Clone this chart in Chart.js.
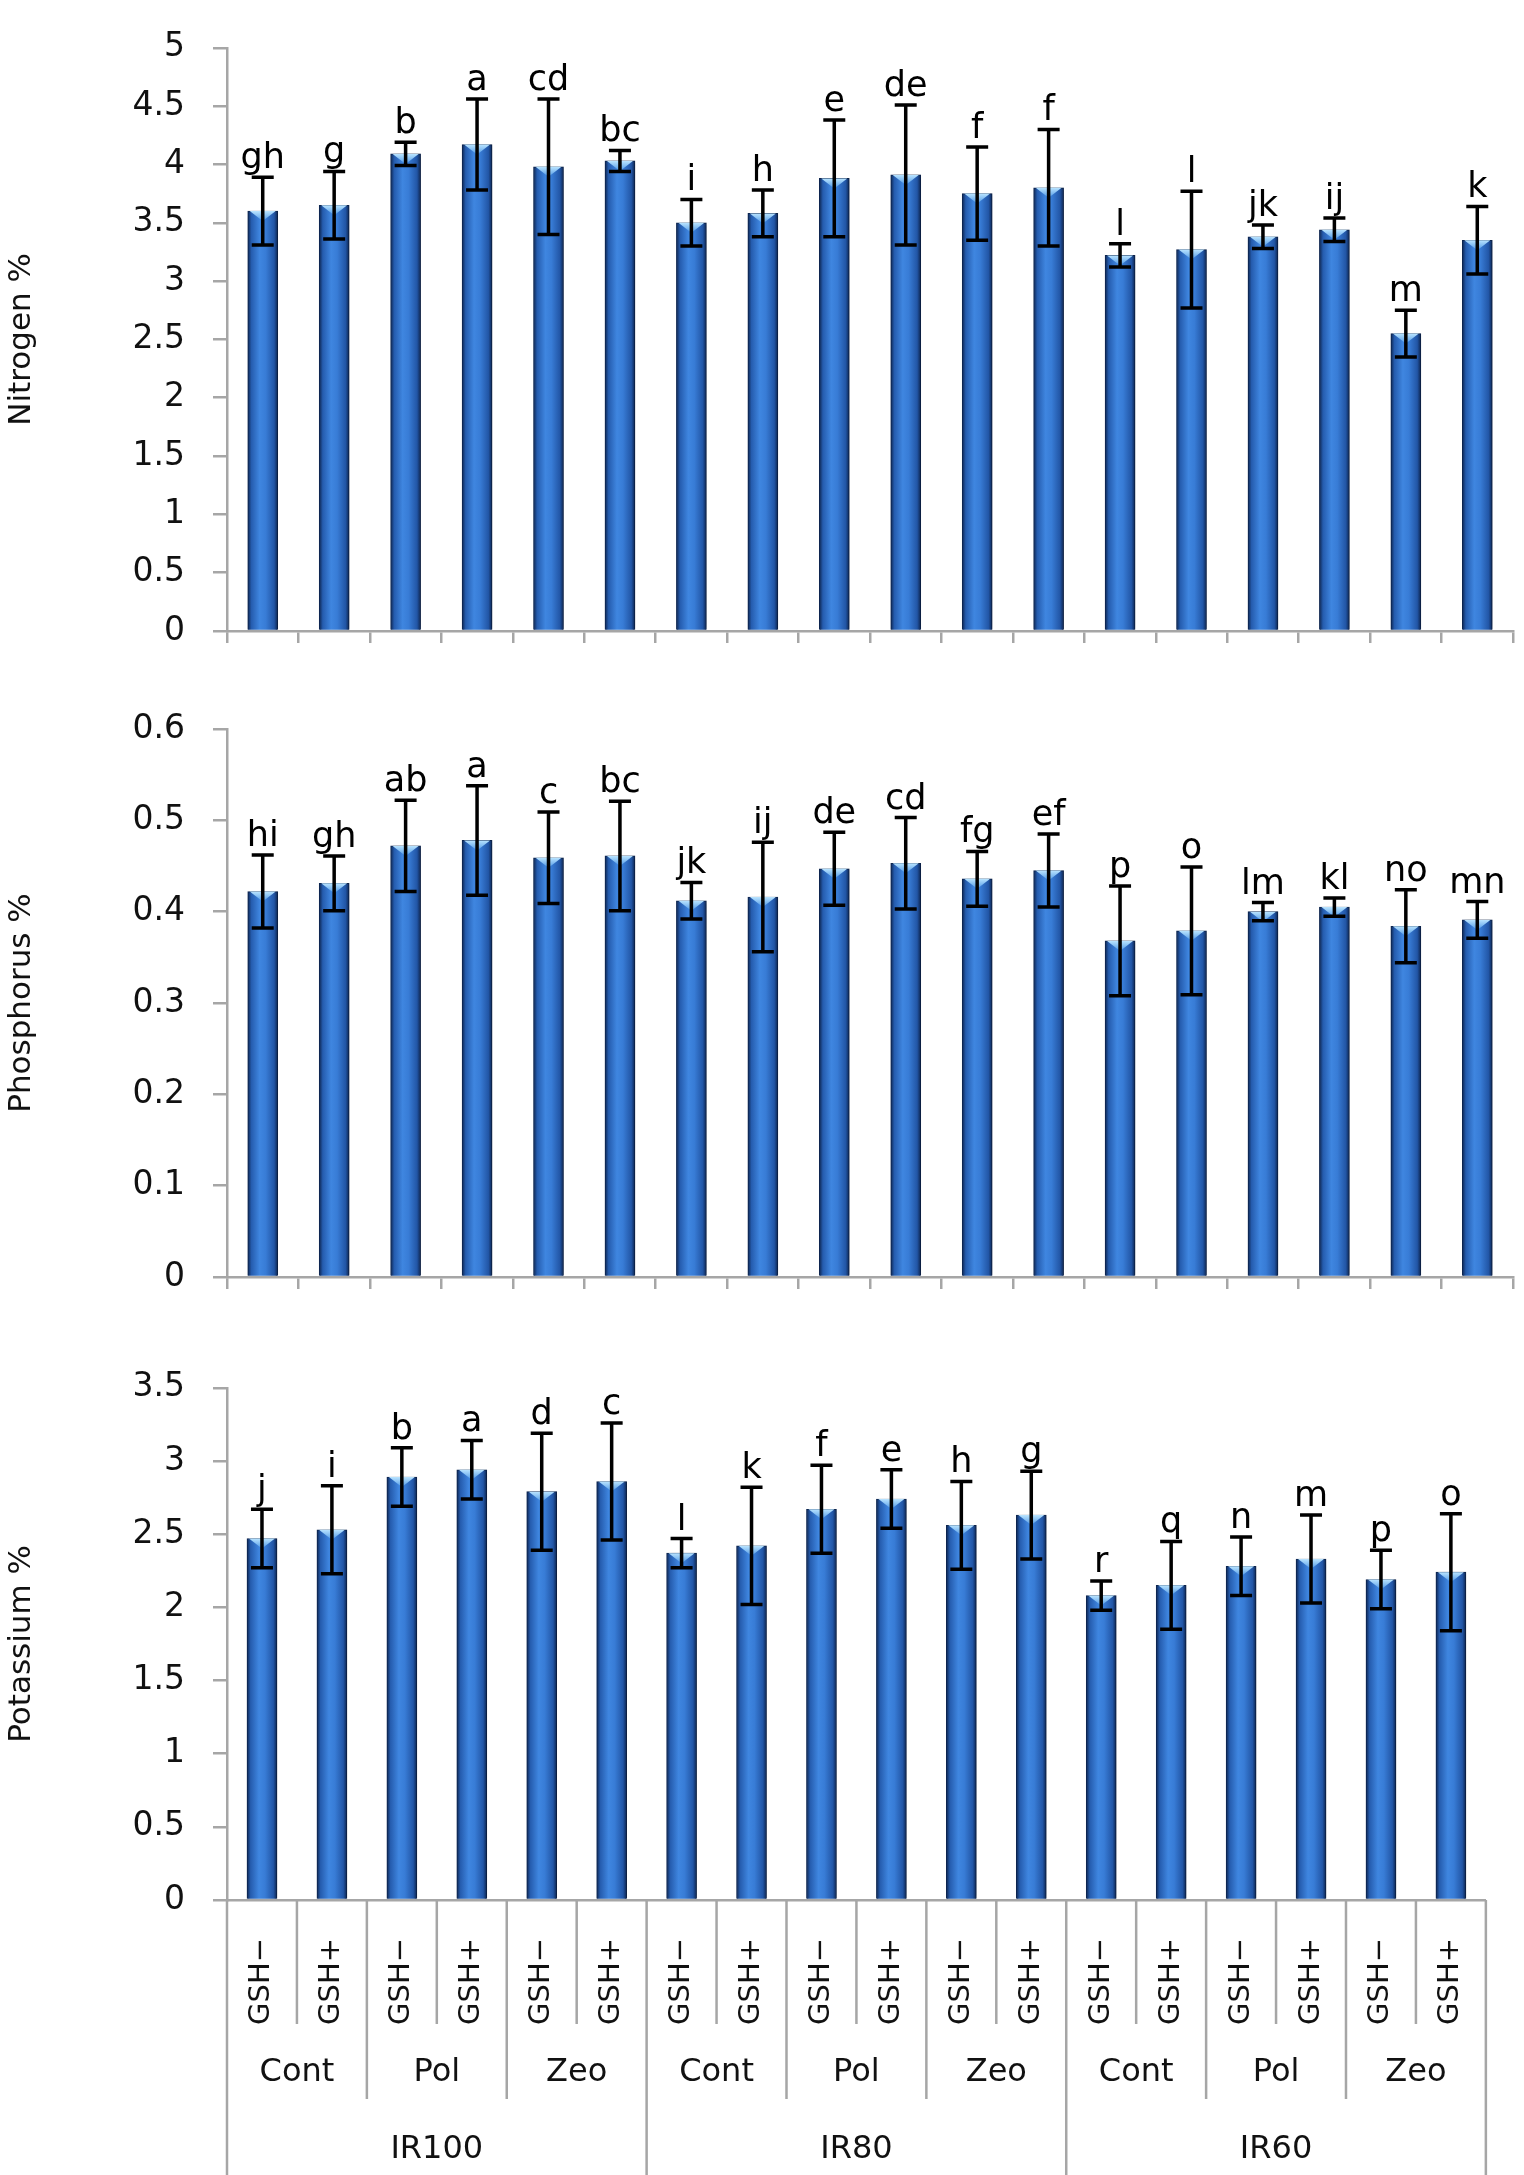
<!DOCTYPE html>
<html>
<head>
<meta charset="utf-8">
<script src="https://cdn.jsdelivr.net/npm/chart.js@4.4.1/dist/chart.umd.min.js"></script>
<style>
  body { margin: 0; background: #fff; width: 1524px; height: 2175px; position: relative; overflow: hidden; }
  canvas { position: absolute; left: 0; }
</style>
</head>
<body>
<canvas id="nChart" width="1524" height="680" style="top:0"></canvas>
<canvas id="pChart" width="1524" height="660" style="top:680px"></canvas>
<canvas id="kChart" width="1524" height="835" style="top:1340px"></canvas>
<script>
// categories
const categories = ["GSH−", "GSH+", "GSH−", "GSH+", "GSH−", "GSH+",
                    "GSH−", "GSH+", "GSH−", "GSH+", "GSH−", "GSH+",
                    "GSH−", "GSH+", "GSH−", "GSH+", "GSH−", "GSH+"];
const treatments = ["Cont", "Pol", "Zeo", "Cont", "Pol", "Zeo", "Cont", "Pol", "Zeo"];
const irrigation = ["IR100", "IR80", "IR60"];

// Nitrogen %
const nitrogen = [3.60, 3.65, 4.09, 4.17, 3.98, 4.03, 3.50, 3.58, 3.88, 3.91, 3.75, 3.80, 3.22, 3.27, 3.38, 3.44, 2.55, 3.35];
const nitrogenErr = [0.29, 0.29, 0.10, 0.39, 0.58, 0.09, 0.20, 0.20, 0.50, 0.60, 0.40, 0.50, 0.10, 0.50, 0.10, 0.10, 0.20, 0.29];
const nitrogenLetters = ["gh", "g", "b", "a", "cd", "bc", "i", "h", "e", "de", "f", "f", "l", "l", "jk", "ij", "m", "k"];

// Phosphorus %
const phosphorus = [0.422, 0.431, 0.472, 0.478, 0.459, 0.461, 0.412, 0.416, 0.447, 0.453, 0.436, 0.445, 0.368, 0.379, 0.400, 0.405, 0.384, 0.391];
const phosphorusErr = [0.040, 0.030, 0.050, 0.060, 0.050, 0.060, 0.020, 0.060, 0.040, 0.050, 0.030, 0.040, 0.060, 0.070, 0.010, 0.010, 0.040, 0.020];
const phosphorusLetters = ["hi", "gh", "ab", "a", "c", "bc", "jk", "ij", "de", "cd", "fg", "ef", "p", "o", "lm", "kl", "no", "mn"];

// Potassium %
const potassium = [2.47, 2.53, 2.89, 2.94, 2.79, 2.86, 2.37, 2.42, 2.67, 2.74, 2.56, 2.63, 2.08, 2.15, 2.28, 2.33, 2.19, 2.24];
const potassiumErr = [0.20, 0.30, 0.20, 0.20, 0.40, 0.40, 0.10, 0.40, 0.30, 0.20, 0.30, 0.30, 0.10, 0.30, 0.20, 0.30, 0.20, 0.40];
const potassiumLetters = ["j", "i", "b", "a", "d", "c", "l", "k", "f", "e", "h", "g", "r", "q", "n", "m", "p", "o"];

const FONT = '"DejaVu Sans", sans-serif';
const AXIS = "#a6a6a6";
const TEXT = "#111";
const BAR_W = 30;

Chart.defaults.font.family = FONT;
Chart.defaults.color = TEXT;

// cylinder-like fill like the Excel bars
function barFill(context) {
  const chart = context.chart;
  const xs = chart.scales.x;
  if (!chart.chartArea || !xs) return "#2f6cc4";
  const cx = xs.getPixelForValue(context.dataIndex);
  const g = chart.ctx.createLinearGradient(cx - BAR_W / 2, 0, cx + BAR_W / 2, 0);
  g.addColorStop(0, "#0d2550");
  g.addColorStop(0.12, "#255cae");
  g.addColorStop(0.4, "#3f86e0");
  g.addColorStop(0.6, "#387cd6");
  g.addColorStop(0.88, "#2256a6");
  g.addColorStop(1, "#0d2550");
  return g;
}

const errorBars = {
  id: "errorBars",
  beforeDatasetsDraw(chart) {
    const c = chart.ctx;
    c.save();
    c.shadowColor = "rgba(0,0,0,0.22)";
    c.shadowBlur = 6;
    c.shadowOffsetX = 4;
  },
  afterDatasetsDraw(chart, args, opts) {
    const c = chart.ctx;
    c.restore();
    const ys = chart.scales.y;
    const meta = chart.getDatasetMeta(0);
    const values = chart.data.datasets[0].data;
    meta.data.forEach((bar, i) => {
      const half = bar.width / 2;
      // bevel at the top of the bar
      const tg = c.createLinearGradient(0, bar.y, 0, bar.y + 10);
      tg.addColorStop(0, "#b9e4ff");
      tg.addColorStop(1, "#4d97e6");
      c.fillStyle = tg;
      c.beginPath();
      c.moveTo(bar.x - half + 2, bar.y);
      c.lineTo(bar.x + half - 2, bar.y);
      c.lineTo(bar.x, bar.y + 10);
      c.closePath();
      c.fill();

      const v = values[i];
      const e = opts.errors[i];
      const yt = ys.getPixelForValue(v + e);
      const yb = ys.getPixelForValue(v - e);
      c.strokeStyle = "#000";
      c.lineWidth = 3.5;
      c.beginPath();
      c.moveTo(bar.x, yt); c.lineTo(bar.x, yb);
      c.moveTo(bar.x - 11, yt); c.lineTo(bar.x + 11, yt);
      c.moveTo(bar.x - 11, yb); c.lineTo(bar.x + 11, yb);
      c.stroke();

      c.fillStyle = "#000";
      c.font = "35px " + FONT;
      c.textAlign = "center";
      c.textBaseline = "alphabetic";
      c.fillText(opts.letters[i], bar.x, yt - 9);
    });
  }
};

// multi-level category axis under the last panel
const groupAxis = {
  id: "groupAxis",
  afterDraw(chart) {
    const xs = chart.scales.x;
    const c = chart.ctx;
    const y0 = xs.top;
    const step = xs.getPixelForValue(1) - xs.getPixelForValue(0);
    const edge = i => xs.getPixelForValue(0) - step / 2 + i * step;
    c.save();
    c.strokeStyle = AXIS;
    c.lineWidth = 2.5;
    c.beginPath();
    for (let i = 0; i <= categories.length; i++) {
      let len = 124;
      if (i % 2 === 0) len = 199;
      if (i % 6 === 0) len = 275;
      c.moveTo(edge(i), y0);
      c.lineTo(edge(i), y0 + len);
    }
    c.stroke();
    c.fillStyle = TEXT;
    c.font = "32px " + FONT;
    c.textAlign = "center";
    c.textBaseline = "middle";
    treatments.forEach((t, k) => c.fillText(t, (edge(2 * k) + edge(2 * k + 2)) / 2, y0 + 173));
    irrigation.forEach((t, k) => c.fillText(t, (edge(6 * k) + edge(6 * k + 6)) / 2, y0 + 250));
    c.restore();
  }
};

function makeChart(id, values, errors, letters, opt) {
  const last = opt.last;
  return new Chart(document.getElementById(id), {
    type: "bar",
    data: {
      labels: categories,
      datasets: [{
        data: values,
        backgroundColor: barFill,
        borderColor: "#0d2550",
        borderWidth: 1,
        barThickness: BAR_W,
      }],
    },
    options: {
      responsive: false,
      animation: false,
      devicePixelRatio: 1,
      layout: { padding: { top: opt.top, right: 11, bottom: 0, left: 0 } },
      plugins: {
        legend: { display: false },
        tooltip: { enabled: false },
        errorBars: { errors: errors, letters: letters },
      },
      scales: {
        x: {
          offset: true,
          afterFit: (scale) => { scale.height = opt.xHeight; },
          grid: last
            ? { display: false, drawTicks: false, drawOnChartArea: false }
            : { offset: true, drawOnChartArea: false, tickLength: 12, color: AXIS, lineWidth: 2.5 },
          border: { color: AXIS, width: 2.5 },
          ticks: last
            ? { display: true, autoSkip: false, minRotation: 90, maxRotation: 90, padding: 38, color: TEXT, font: { size: 29 } }
            : { display: false },
        },
        y: {
          min: 0,
          max: opt.max,
          afterFit: (scale) => { scale.width = 227; },
          ticks: {
            stepSize: opt.step,
            padding: 28,
            color: TEXT,
            font: { size: 33 },
            callback: (v) => String(Math.round(v * 10) / 10),
          },
          grid: { drawOnChartArea: false, tickLength: 14, color: AXIS, lineWidth: 2.5 },
          border: { color: AXIS, width: 2.5 },
          title: { display: true, text: opt.title, color: TEXT, font: { size: 31 }, padding: { top: 3, bottom: 0 } },
        },
      },
    },
    plugins: last ? [errorBars, groupAxis] : [errorBars],
  });
}

makeChart("nChart", nitrogen, nitrogenErr, nitrogenLetters,
  { top: 44, xHeight: 49, max: 5, step: 0.5, title: "Nitrogen %" });
makeChart("pChart", phosphorus, phosphorusErr, phosphorusLetters,
  { top: 49, xHeight: 63, max: 0.6, step: 0.1, title: "Phosphorus %" });
makeChart("kChart", potassium, potassiumErr, potassiumLetters,
  { top: 37, xHeight: 275, max: 3.5, step: 0.5, title: "Potassium %", last: true });
</script>
</body>
</html>
